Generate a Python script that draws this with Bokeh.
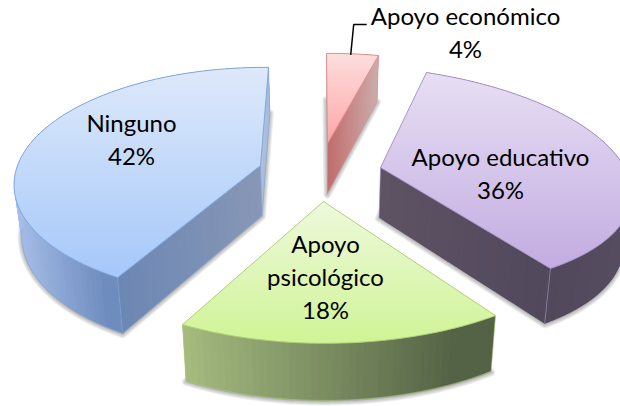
import numpy as np
from bokeh.plotting import figure
from bokeh.models import ColumnDataSource
from bokeh.core.properties import value
from bokeh.embed import file_html
from bokeh.resources import INLINE

CATEGORIES = ["Apoyo económico", "Apoyo educativo", "Apoyo psicológico", "Ninguno"]
VALUES = [4, 36, 18, 42]
LABEL_LINES = [["Apoyo económico"], ["Apoyo educativo"], ["Apoyo", "psicológico"], ["Ninguno"]]

# geometry of the tilted, exploded pie: apex of each slice (page px) and its projection
APEX = [(327, 143), (380, 167), (323, 201), (260, 165)]
PROJ = [
    (209.0, -1.0, -3.0, -90.0, 0.0, 0.0),
    (254.2229, -13.649, 11.3339, -109.5649, 0.0849, 0.022),
    (280.9173, 0.3669, -0.0137, -135.1755, 0.0469, -0.0065),
    (241.5785, 9.2454, 1.7777, -112.3572, 0.1454, 0.003),
]
LABEL_AT = [(465, 15), (500, 156), (325, 243), (131, 122)]
LINE_STEP = 33

TOP_COL = [((253, 222, 222), (255, 165, 165)), ((231, 223, 244), (195, 172, 225)),
           ((238, 249, 220), (208, 244, 150)), ((222, 233, 250), (165, 200, 250))]
WALL_COL = [((200, 150, 150), (200, 150, 150)), ((82, 72, 92), (86, 76, 96)),
            ((165, 187, 127), (84, 99, 70)), ((166, 190, 232), (110, 140, 190))]
FACE_COL = [((193, 108, 108), (205, 172, 172)), ((93, 83, 99), (82, 72, 92)),
            ((90, 100, 70), (90, 100, 70)), ((136, 151, 182), (108, 135, 180))]
BACK_FACE_COL = [None, None, None, (172, 190, 220)]
EDGE_COL = [(226, 140, 140), (165, 145, 200), (172, 206, 116), (125, 165, 220)]


def hexc(c):
    return "#%02x%02x%02x" % tuple(int(round(v)) for v in c)


def mix(a, b, t):
    t = min(max(t, 0.0), 1.0)
    return [a[i] + (b[i] - a[i]) * t for i in range(3)]


def arc_point(i, th):
    P, Q, U, V, k, m = PROJ[i]
    s, c = np.sin(th), np.cos(th)
    d = 1 + k * c + m * s
    return (APEX[i][0] + (P * s + Q * c) / d, APEX[i][1] + (U * s + V * c) / d)


def lower(i, x, y):
    dy = y - APEX[i][1]
    return (320 + (x - 320) * 0.975, y + 50 + 0.05 * dy)


def clip_band(poly, y0, y1):
    def clip(pts, inside, cross):
        out = []
        for j in range(len(pts)):
            a, b = pts[j], pts[(j + 1) % len(pts)]
            if inside(a):
                out.append(a)
            if inside(a) != inside(b):
                out.append(cross(a, b))
        return out

    def at(yy):
        return lambda a, b: (a[0] + (b[0] - a[0]) * (yy - a[1]) / (b[1] - a[1]), yy)

    pts = clip(poly, lambda q: q[1] >= y0, at(y0))
    if pts:
        pts = clip(pts, lambda q: q[1] <= y1, at(y1))
    return pts


p = figure(width=620, height=406, x_range=(0, 620), y_range=(406, 0),
           output_backend="svg", toolbar_location=None, min_border=0,
           outline_line_color=None, background_fill_color="white", border_fill_color="white")
p.xaxis.visible = False
p.yaxis.visible = False
p.grid.visible = False

shadow = {"xs": [], "ys": []}
strips = {"xs": [], "ys": [], "c": []}
lines = {"xs": [], "ys": [], "c": [], "a": []}


def add(poly, col):
    strips["xs"].append([q[0] for q in poly])
    strips["ys"].append([q[1] for q in poly])
    strips["c"].append(hexc(col))


def add_line(pts, col, a):
    lines["xs"].append([q[0] for q in pts])
    lines["ys"].append([q[1] for q in pts])
    lines["c"].append(hexc(col))
    lines["a"].append(a)


def quad_face(i, a, b, ca, cb, n=36):
    for j in range(n):
        t0, t1 = j / n, min((j + 2) / n, 1.0)
        A0 = (a[0] + (b[0] - a[0]) * t0, a[1] + (b[1] - a[1]) * t0)
        A1 = (a[0] + (b[0] - a[0]) * t1, a[1] + (b[1] - a[1]) * t1)
        add([A0, A1, lower(i, *A1), lower(i, *A0)], mix(ca, cb, (j + 0.5) / n))


total = sum(VALUES)
cum = np.cumsum([0] + VALUES) / total * 2 * np.pi
draw_order = [0, 3, 1, 2]

for i in draw_order:
    ths = np.linspace(cum[i], cum[i + 1], 90)
    arc = [arc_point(i, t) for t in ths]
    low = [lower(i, *q) for q in [APEX[i]] + arc]
    shadow["xs"].append([q[0] for q in low])
    shadow["ys"].append([q[1] + 1 for q in low])

sh = ColumnDataSource(shadow)
for w in (8, 6, 4, 2):
    p.patches("xs", "ys", source=sh, fill_color="#404040", fill_alpha=0.05,
              line_color="#404040", line_alpha=0.09, line_width=w, line_join="round")

for i in draw_order:
    a0, a1 = cum[i], cum[i + 1]
    ths = np.linspace(a0, a1, int(np.degrees(a1 - a0) / 1.5) + 2)
    arc = [arc_point(i, t) for t in ths]
    top = [APEX[i]] + arc
    apex = APEX[i]

    front = [q[0] for q in arc if q[1] > apex[1]] or [q[0] for q in arc]
    xmin, xmax = min(front), max(front)
    for j in range(len(arc) - 1):
        A, B = arc[j], arc[min(j + 2, len(arc) - 1)]
        t = ((arc[j][0] + arc[j + 1][0]) / 2 - xmin) / max(xmax - xmin, 1)
        add([A, B, lower(i, *B), lower(i, *A)], mix(WALL_COL[i][0], WALL_COL[i][1], t * 1.15))

    if BACK_FACE_COL[i] is not None:
        quad_face(i, apex, arc[-1], BACK_FACE_COL[i], BACK_FACE_COL[i])

    if i in (0, 1):
        quad_face(i, apex, arc[-1], FACE_COL[i][0], FACE_COL[i][1])
    elif i == 3:
        quad_face(i, apex, arc[0], FACE_COL[i][0], FACE_COL[i][1])

    ys = [q[1] for q in top]
    ymin, ymax = min(ys), max(ys)
    step = 2.0
    y = ymin
    while y < ymax:
        band = clip_band(top, y, y + step + 1.0)
        if len(band) >= 3:
            add(band, mix(TOP_COL[i][0], TOP_COL[i][1], (y + step / 2 - ymin) / (ymax - ymin)))
        y += step

    # only the outlines that can be seen
    add_line(top + [apex], EDGE_COL[i], 0.95)
    if i == 2:
        add_line([lower(i, *q) for q in arc], EDGE_COL[i], 0.55)
        seen = [arc[0], arc[-1]]
    elif i == 3:
        add_line([lower(i, *q) for q in arc if q[1] > apex[1] + 10], EDGE_COL[i], 0.55)
        add_line([lower(i, *apex), lower(i, *arc[0])], EDGE_COL[i], 0.55)
        add_line([lower(i, *apex), lower(i, *arc[-1])], EDGE_COL[i], 0.55)
        seen = [apex, arc[0], arc[-1]]
    elif i == 1:
        seen = [apex, arc[-1]]
    else:
        add_line([lower(i, *apex), lower(i, *arc[-1])], EDGE_COL[i], 0.55)
        seen = [apex, arc[-1]]
    for q in seen:
        add_line([q, lower(i, *q)], EDGE_COL[i], 0.6)

p.patches("xs", "ys", source=ColumnDataSource(strips), fill_color="c", line_color=None)
p.multi_line("xs", "ys", source=ColumnDataSource(lines), line_color="c", line_alpha="a", line_width=1)

lx, ly = arc_point(0, (cum[0] + cum[1]) / 2)
p.line([lx - 2, lx + 1, lx + 14], [ly + 1, 24, 24], line_color="black", line_width=1.5)

tx, ty, tt = [], [], []
for i, (cat_lines, v) in enumerate(zip(LABEL_LINES, VALUES)):
    x0, y0 = LABEL_AT[i]
    for r, row in enumerate(cat_lines + [f"{v}%"]):
        tx.append(x0)
        ty.append(y0 + r * LINE_STEP)
        tt.append(row)
p.text(tx, ty, text=tt, text_font=value("Lato"), text_font_size="24px", text_color="black",
       text_align="center", text_baseline="middle")

open("out.html", "w").write(file_html(p, INLINE))
